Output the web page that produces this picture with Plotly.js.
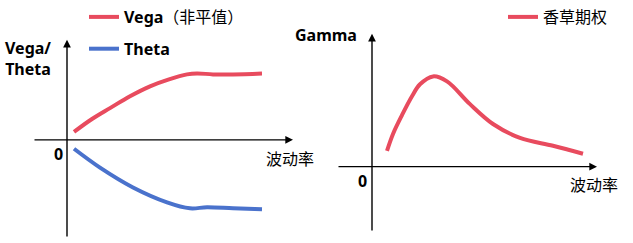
<!DOCTYPE html>
<html><head><meta charset="utf-8">
<script src="https://cdn.plot.ly/plotly-3.0.1.min.js"></script>
<style>html,body{margin:0;padding:0;background:#fff;}#chart{width:633px;height:243px;}</style>
</head><body><div id="chart"></div>
<script>
// Left panel: Vega (non-ATM) and Theta vs volatility
const vegaX  = [0.7, 2.5, 4.3, 6.3, 8.3, 10.2, 12.0, 13.0, 14.6, 16.6, 19.5];
const vegaY  = [0.8, 2.1, 3.2, 4.4, 5.4, 6.1, 6.6, 6.7, 6.6, 6.6, 6.7];
const thetaX = [0.7, 3.3, 6.6, 10.0, 12.3, 14.0, 16.6, 19.5];
const thetaY = [-0.9, -2.8, -4.8, -6.3, -6.9, -6.8, -6.9, -7.0];
// Right panel: Gamma of vanilla option vs volatility
const gammaX = [1.5, 2.1, 3.0, 4.0, 4.8, 6.1, 7.5, 9.8, 12.1, 14.8, 18.1, 21.1];
const gammaY = [1.6, 3.3, 5.2, 7.1, 8.3, 9.1, 8.6, 6.3, 4.3, 2.9, 2.1, 1.3];

const seriesNames = ['<b>Vega</b>（非平值）', '<b>Theta</b>', '香草期权'];
const axisLabels = {left: '<b>Vega/</b><br><b>Theta</b>', right: '<b>Gamma</b>', x: '波动率', zero: '<b>0</b>'};

const RED = '#E84B5E', BLUE = '#4A72CC';
const FONT = 'Noto Sans, Noto Sans CJK SC, sans-serif';

const traces = [
  {x: vegaX, y: vegaY, xaxis: 'x', yaxis: 'y', mode: 'lines', name: seriesNames[0],
   line: {color: RED, width: 4, shape: 'spline', smoothing: 1}, legend: 'legend', legendgroup: 'a'},
  {x: thetaX, y: thetaY, xaxis: 'x', yaxis: 'y', mode: 'lines', name: seriesNames[1],
   line: {color: BLUE, width: 4, shape: 'spline', smoothing: 1}, legend: 'legend', legendgroup: 'b'},
  {x: gammaX, y: gammaY, xaxis: 'x2', yaxis: 'y2', mode: 'lines', name: seriesNames[2],
   line: {color: RED, width: 4, shape: 'spline', smoothing: 1}, legend: 'legend2'}
];

const hidden = {visible: false, fixedrange: true};
function arrow(xref, yref, x, y, ax, ay) {
  return {xref: xref, yref: yref, axref: xref, ayref: yref, x: x, y: y, ax: ax, ay: ay,
          text: '', showarrow: true, arrowhead: 2, arrowsize: 1.1, arrowwidth: 1.4, arrowcolor: '#000'};
}
function label(xref, yref, x, y, text, xanchor) {
  return {xref: xref, yref: yref, x: x, y: y, text: text, showarrow: false,
          xanchor: xanchor || 'center', yanchor: 'middle', font: {family: FONT, size: 16, color: '#000'}};
}

const layout = {
  width: 633, height: 243, margin: {l: 0, r: 0, t: 0, b: 0},
  paper_bgcolor: '#fff', plot_bgcolor: 'rgba(0,0,0,0)',
  font: {family: FONT, size: 16, color: '#000'},
  xaxis: Object.assign({domain: [33/633, 293/633], range: [-3.4, 22.6]}, hidden),
  yaxis: Object.assign({domain: [1-238/243, 1-38/243], range: [-9.9, 10.1]}, hidden),
  xaxis2: Object.assign({domain: [337/633, 597/633], range: [-3.5, 22.5]}, hidden),
  yaxis2: Object.assign({domain: [1-232/243, 1-32/243], range: [-6.6, 13.4]}, hidden),
  legend: {x: 84/633, y: 1.01, xanchor: 'left', yanchor: 'top', bgcolor: 'rgba(0,0,0,0)',
           traceorder: 'grouped', tracegroupgap: 8, itemwidth: 30, font: {family: FONT, size: 16}},
  legend2: {x: 503/633, y: 1.01, xanchor: 'left', yanchor: 'top', bgcolor: 'rgba(0,0,0,0)',
            itemwidth: 30, font: {family: FONT, size: 16}},
  annotations: [
    arrow('x', 'y', 22.6, 0, -3.4, 0),
    arrow('x', 'y', 0, 10.1, 0, -9.9),
    arrow('x2', 'y2', 22.5, 0, -3.5, 0),
    arrow('x2', 'y2', 0, 13.4, 0, -6.6),
    label('x', 'y', -0.9, -1.4, axisLabels.zero),
    label('x', 'y', 22.3, -1.9, axisLabels.x),
    label('paper', 'paper', 28/633, 1 - 57/243, axisLabels.left),
    label('x2', 'y2', -1.0, -1.4, axisLabels.zero),
    label('x2', 'y2', 22.2, -1.9, axisLabels.x),
    label('paper', 'paper', 326/633, 1 - 33/243, axisLabels.right)
  ],
  showlegend: true
};

Plotly.newPlot('chart', traces, layout, {staticPlot: true});
</script></body></html>
